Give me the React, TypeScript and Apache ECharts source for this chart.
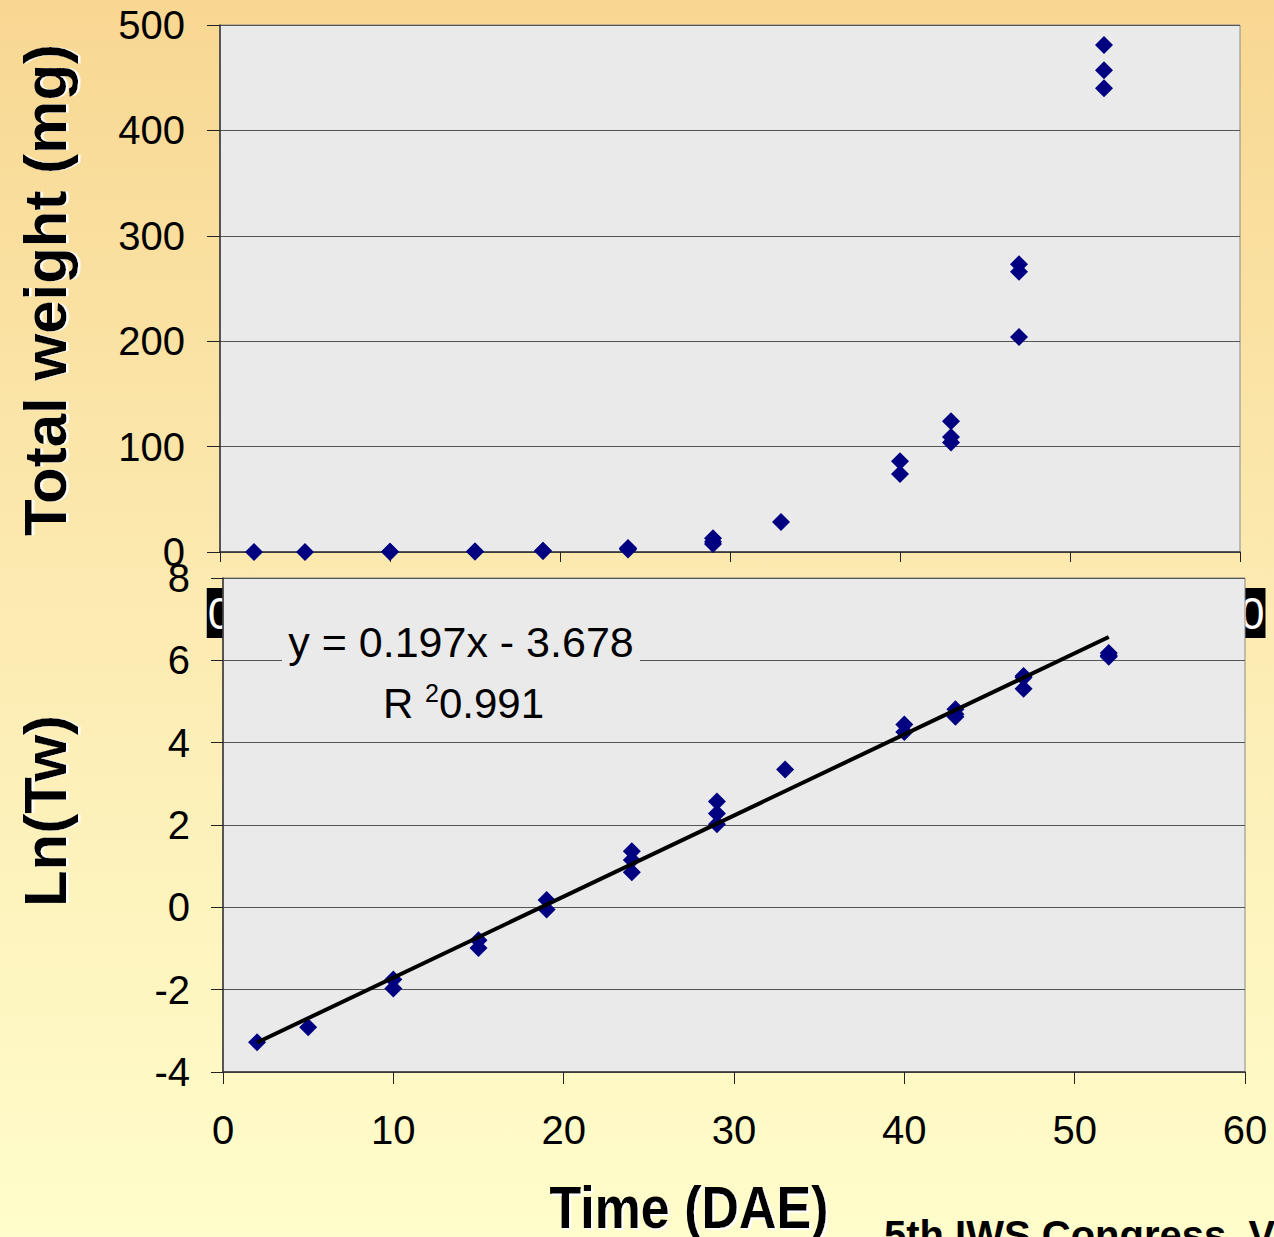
import React, { useEffect, useRef } from 'react';
import * as echarts from 'echarts';

// ---- data ----
const days = [2, 5, 10, 10, 15, 15, 19, 19, 24, 24, 24, 29, 29, 29, 33, 40, 40, 43, 43, 43, 47, 47, 47, 52, 52, 52];
const totalWeightMg = [0.04, 0.05, 0.17, 0.14, 0.45, 0.37, 1.2, 0.95, 3.9, 3.2, 2.3, 13.1, 9.8, 7.5, 28.5, 86, 74, 124, 109, 104, 273, 266, 204, 481, 457, 440];
const lnTw = [-3.28, -2.91, -1.75, -1.97, -0.8, -0.99, 0.18, -0.05, 1.36, 1.15, 0.85, 2.57, 2.28, 2.02, 3.35, 4.44, 4.26, 4.81, 4.69, 4.63, 5.62, 5.58, 5.31, 6.18, 6.12, 6.09];

const xTickLabels = [0, 10, 20, 30, 40, 50, 60];
const topYTicks = [0, 100, 200, 300, 400, 500];
const bottomYTicks = [-4, -2, 0, 2, 4, 6, 8];

const trendSlope = 0.197;
const trendIntercept = -3.678;
const trendRange = [2, 52];
const equationText = 'y = 0.197x - 3.678';
const r2Value = '0.991';

const topYTitle = 'Total weight (mg)';
const bottomYTitle = 'Ln(Tw)';
const xTitle = 'Time (DAE)';
const footerText = '5th IWS Congress, Vancouver';

const FONT = "'Liberation Sans', Arial, Helvetica, sans-serif";
const NAVY = '#000080';

export default function App() {
  const topRef = useRef<HTMLDivElement>(null);
  const botRef = useRef<HTMLDivElement>(null);

  useEffect(() => {
    document.body.style.margin = '0';
    const top = echarts.init(topRef.current!, undefined, { renderer: 'svg' });
    const bot = echarts.init(botRef.current!, undefined, { renderer: 'svg' });

    const titleShadow = {
      textShadowColor: '#ffffff', textShadowOffsetX: 0, textShadowOffsetY: 2.5, textShadowBlur: 1,
    };

    const topOption: any = {
      animation: false,
      grid: {
        left: 220, top: 25, width: 1020, height: 527,
        show: true, backgroundColor: '#EAEAEA', borderColor: '#8a8a8a', borderWidth: 1,
      },
      xAxis: {
        type: 'value', min: xTickLabels[0], max: xTickLabels[xTickLabels.length - 1], interval: 10,
        axisLine: { show: true, onZero: false, lineStyle: { color: '#333', width: 1.5 } },
        axisTick: { show: true, length: 10, lineStyle: { color: '#222' } },
        splitLine: { show: false },
        axisLabel: {
          color: '#fff', fontSize: 44, fontFamily: FONT, backgroundColor: '#000',
          lineHeight: 50, margin: 36, padding: [0, 1],
        },
      },
      yAxis: {
        type: 'value', min: topYTicks[0], max: topYTicks[topYTicks.length - 1], interval: 100,
        axisLine: { show: true, lineStyle: { color: '#333', width: 1.5 } },
        axisTick: { show: true, length: 13, lineStyle: { color: '#222' } },
        splitLine: { show: true, lineStyle: { color: '#555', width: 1 } },
        axisLabel: { color: '#000', fontSize: 40, fontFamily: FONT, margin: 35 },
      },
      series: [{
        type: 'scatter',
        data: days.map((d, i) => [d, totalWeightMg[i]]),
        symbol: 'diamond', symbolSize: 18,
        itemStyle: { color: NAVY, opacity: 1 },
      }],
      graphic: [{
        type: 'text', x: 45, y: 290, rotation: Math.PI / 2, z: 10,
        style: {
          text: topYTitle, font: `bold 60px ${FONT}`, fill: '#000',
          align: 'center', verticalAlign: 'middle', ...titleShadow,
        },
      }],
    };

    const botOption: any = {
      animation: false,
      grid: {
        left: 223, top: 578, width: 1022, height: 494,
        show: true, backgroundColor: '#EAEAEA', borderColor: '#8a8a8a', borderWidth: 1,
      },
      xAxis: {
        type: 'value', min: xTickLabels[0], max: xTickLabels[xTickLabels.length - 1], interval: 10,
        axisLine: { show: true, onZero: false, lineStyle: { color: '#333', width: 1.5 } },
        axisTick: { show: true, length: 12, lineStyle: { color: '#222' } },
        splitLine: { show: false },
        axisLabel: { color: '#000', fontSize: 40, fontFamily: FONT, margin: 38 },
      },
      yAxis: {
        type: 'value', min: bottomYTicks[0], max: bottomYTicks[bottomYTicks.length - 1], interval: 2,
        axisLine: { show: true, onZero: false, lineStyle: { color: '#333', width: 1.5 } },
        axisTick: { show: true, length: 12, lineStyle: { color: '#222' } },
        splitLine: { show: true, lineStyle: { color: '#555', width: 1 } },
        axisLabel: { color: '#000', fontSize: 40, fontFamily: FONT, margin: 33 },
      },
      series: [
        {
          type: 'scatter',
          data: days.map((d, i) => [d, lnTw[i]]),
          symbol: 'diamond', symbolSize: 18,
          itemStyle: { color: NAVY, opacity: 1 },
          z: 3,
        },
        {
          type: 'line',
          data: trendRange.map((x) => [x, trendSlope * x + trendIntercept]),
          symbol: 'none',
          lineStyle: { color: '#000', width: 4 },
          z: 5,
        },
      ],
      graphic: [
        {
          type: 'rect', z: 10,
          shape: { x: 282, y: 618, width: 358, height: 108 },
          style: { fill: '#EAEAEA' },
        },
        {
          type: 'text', x: 461, y: 642, z: 11,
          style: {
            text: equationText, font: `43px ${FONT}`, fill: '#000',
            align: 'center', verticalAlign: 'middle',
          },
        },
        {
          type: 'text', x: 383, y: 703, z: 11,
          style: {
            text: '{r|R }{s|2}{n|' + r2Value + '}',
            align: 'left', verticalAlign: 'middle',
            rich: {
              r: { fontSize: 42, fontFamily: FONT, fill: '#000', lineHeight: 46, verticalAlign: 'middle' },
              s: { fontSize: 25, fontFamily: FONT, fill: '#000', lineHeight: 24, verticalAlign: 'top' },
              n: { fontSize: 42, fontFamily: FONT, fill: '#000', lineHeight: 46, verticalAlign: 'middle' },
            },
          },
        },
        {
          type: 'text', x: 45, y: 811, rotation: Math.PI / 2, z: 10,
          style: {
            text: bottomYTitle, font: `bold 60px ${FONT}`, fill: '#000',
            align: 'center', verticalAlign: 'middle', ...titleShadow,
          },
        },
        {
          type: 'text', x: 689, y: 1207, scaleY: 1.15, z: 10,
          style: {
            text: xTitle, font: `bold 52px ${FONT}`, fill: '#000',
            align: 'center', verticalAlign: 'middle',
            textShadowColor: '#ffffff', textShadowOffsetX: 2, textShadowOffsetY: 2, textShadowBlur: 1,
          },
        },
        {
          type: 'text', x: 884, y: 1235, z: 10,
          style: {
            text: footerText, font: `bold 40px ${FONT}`, fill: '#000',
            align: 'left', verticalAlign: 'middle',
          },
        },
      ],
    };

    top.setOption(topOption);
    bot.setOption(botOption);
    return () => {
      top.dispose();
      bot.dispose();
    };
  }, []);

  return (
    <div
      style={{
        position: 'absolute', left: 0, top: 0, width: 1274, height: 1237, overflow: 'hidden',
        background: 'linear-gradient(to bottom, #F8D792 0%, #FCEBB2 50%, #FFFDCB 100%)',
      }}
    >
      <div ref={topRef} style={{ position: 'absolute', left: 0, top: 0, width: 1274, height: 1237 }} />
      <div ref={botRef} style={{ position: 'absolute', left: 0, top: 0, width: 1274, height: 1237 }} />
    </div>
  );
}
